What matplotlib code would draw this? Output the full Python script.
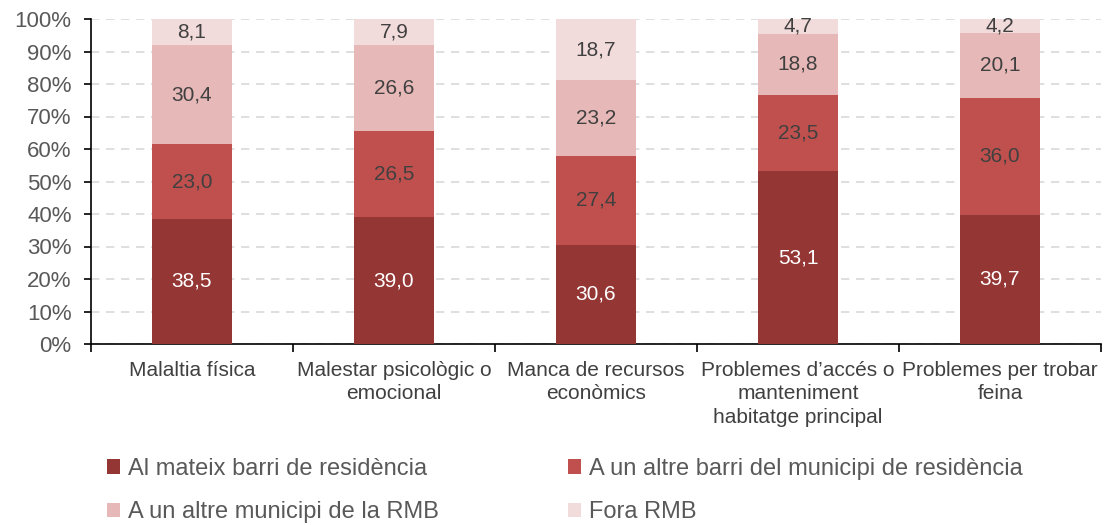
import matplotlib
matplotlib.use("Agg")
import matplotlib.pyplot as plt
import numpy as np

plt.rcParams['font.family'] = ['Liberation Sans', 'DejaVu Sans']

categories = ["Malaltia física", "Malestar psicològic o\nemocional", "Manca de recursos\neconòmics",
              "Problemes d’accés o\nmanteniment\nhabitatge principal", "Problemes per trobar\nfeina"]
series_names = ["Al mateix barri de residència", "A un altre barri del municipi de residència",
                "A un altre municipi de la RMB", "Fora RMB"]
barri = [38.5, 39.0, 30.6, 53.1, 39.7]
municipi = [23.0, 26.5, 27.4, 23.5, 36.0]
rmb = [30.4, 26.6, 23.2, 18.8, 20.1]
fora = [8.1, 7.9, 18.7, 4.7, 4.2]
colors = ["#943634", "#C0504D", "#E6B8B7", "#F2DCDB"]
label_colors = ["white", "#404040", "#404040", "#404040"]

fig = plt.figure(figsize=(11.07, 5.25), dpi=100)
ax = fig.add_axes([91/1107, 1-344/525, (1101-91)/1107, (344-19)/525])

x = np.arange(len(categories))
data = [barri, municipi, rmb, fora]
bottom = np.zeros(len(categories))
handles = []
for vals, col, lc, name in zip(data, colors, label_colors, series_names):
    v = np.array(vals)
    tot = bottom + v
    b = ax.bar(x, v, 0.4, bottom=bottom, color=col, label=name, zorder=3)
    handles.append(b)
    for xi, bi, vi in zip(x, bottom, v):
        ax.text(xi, bi + vi/2, f"{vi:.1f}".replace('.', ','), ha='center', va='center',
                color=lc, fontsize=15, zorder=4)
    bottom = tot

ax.set_xlim(-0.5, len(categories) - 0.5)
ax.set_ylim(0, 100)
ax.set_yticks(np.arange(0, 101, 10))
ax.set_yticklabels([f"{t}%" for t in range(0, 101, 10)], fontsize=16, color="#595959")
ax.set_xticks(x)
ax.set_xticklabels(categories, fontsize=15, color="#404040", linespacing=1.3)
ax.tick_params(axis='x', length=0, pad=12)
ax.set_xticks(np.arange(-0.5, len(categories), 1), minor=True)
ax.tick_params(axis='x', which='minor', length=6, width=1.2, color='black')
ax.tick_params(axis='y', length=5, width=1.2, color='black', pad=9)
for s in ['top', 'right']:
    ax.spines[s].set_visible(False)
ax.spines['left'].set_linewidth(1.2)
ax.spines['bottom'].set_linewidth(1.2)
ax.yaxis.grid(True, linestyle=(0, (5, 4)), color="#D9D9D9", linewidth=1.2, zorder=0)
ax.set_axisbelow(True)

order = [0, 2, 1, 3]
leg = fig.legend(handles=[handles[i] for i in order], labels=[series_names[i] for i in order],
                 loc='upper left', bbox_to_anchor=(88/1107, 1-439/525), ncol=2, frameon=False,
                 fontsize=17, handlelength=0.55, handleheight=0.55, handletextpad=0.35,
                 columnspacing=5.47, labelspacing=0.9, borderpad=0.3)
for t in leg.get_texts():
    t.set_color("#595959")

fig.savefig("out.png", dpi=100)
